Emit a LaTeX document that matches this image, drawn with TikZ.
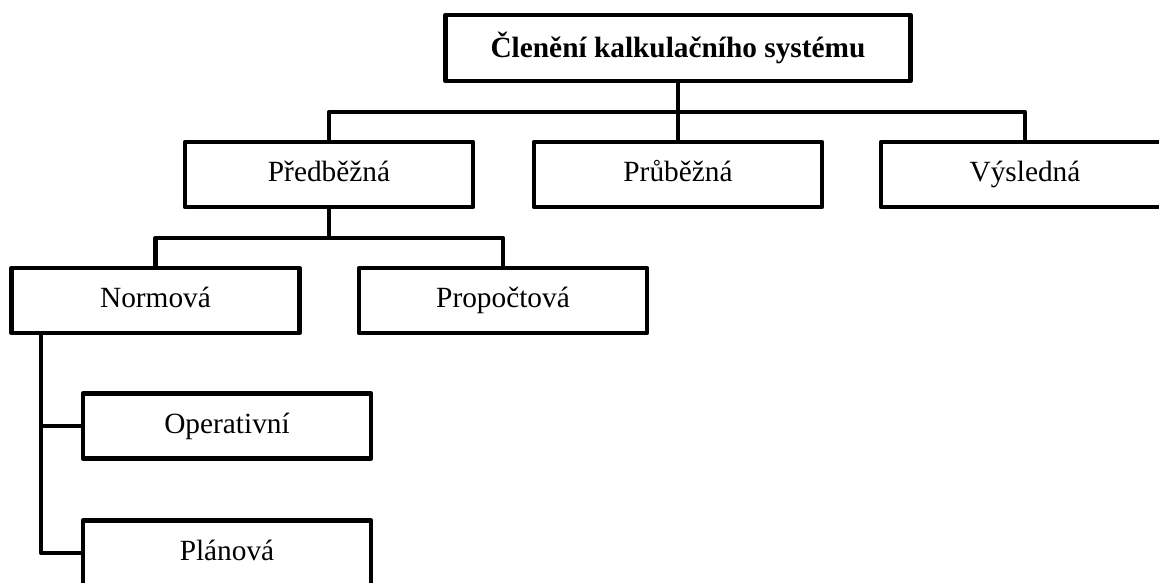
\documentclass[tikz,border=0pt]{standalone}
\usepackage{fontspec}
\setmainfont{Liberation Serif}
\begin{document}
\begin{tikzpicture}[x=0.75pt,y=-0.75pt,
  box/.style={draw=black, line width=3.5pt, line join=round, fill=white,
    minimum width=288*0.75pt, minimum height=65*0.75pt, inner sep=0pt,
    text height=13pt, text depth=1.8pt,
    font=\fontsize{22}{26}\selectfont},
  titlebox/.style={box, minimum width=465*0.75pt, minimum height=66*0.75pt,
    text height=15pt, text depth=1.5pt,
    font=\fontsize{22}{26}\selectfont\bfseries},
  conn/.style={draw=black, line width=3.5pt, line join=round}]
\clip (0,0) rectangle (1159,582);
\fill[white] (0,0) rectangle (1159,582);
\node[titlebox] (top) at (678,48) {Členění kalkulačního systému};
\node[box] (pred) at (329,174.5) {Předběžná};
\node[box] (prub) at (678,174.5) {Průběžná};
\node[box] (vys) at (1025,174.5) {Výsledná};
\node[box] (norm) at (155.5,300.5) {Normová};
\node[box] (prop) at (503,300.5) {Propočtová};
\node[box] (oper) at (227,426) {Operativní};
\node[box] (plan) at (227,553) {Plánová};
\coordinate (bus1) at (678,112);
\coordinate (bus2) at (329,238);
\coordinate (nv) at (41,333);
\draw[conn] (top.south) -- (prub.north);
\draw[conn] (pred.north) |- (bus1) -| (vys.north);
\draw[conn] (pred.south) -- (bus2);
\draw[conn] (norm.north) |- (bus2) -| (prop.north);
\draw[conn] (nv) |- (oper.west);
\draw[conn] (nv) |- (plan.west);
\end{tikzpicture}
\end{document}
